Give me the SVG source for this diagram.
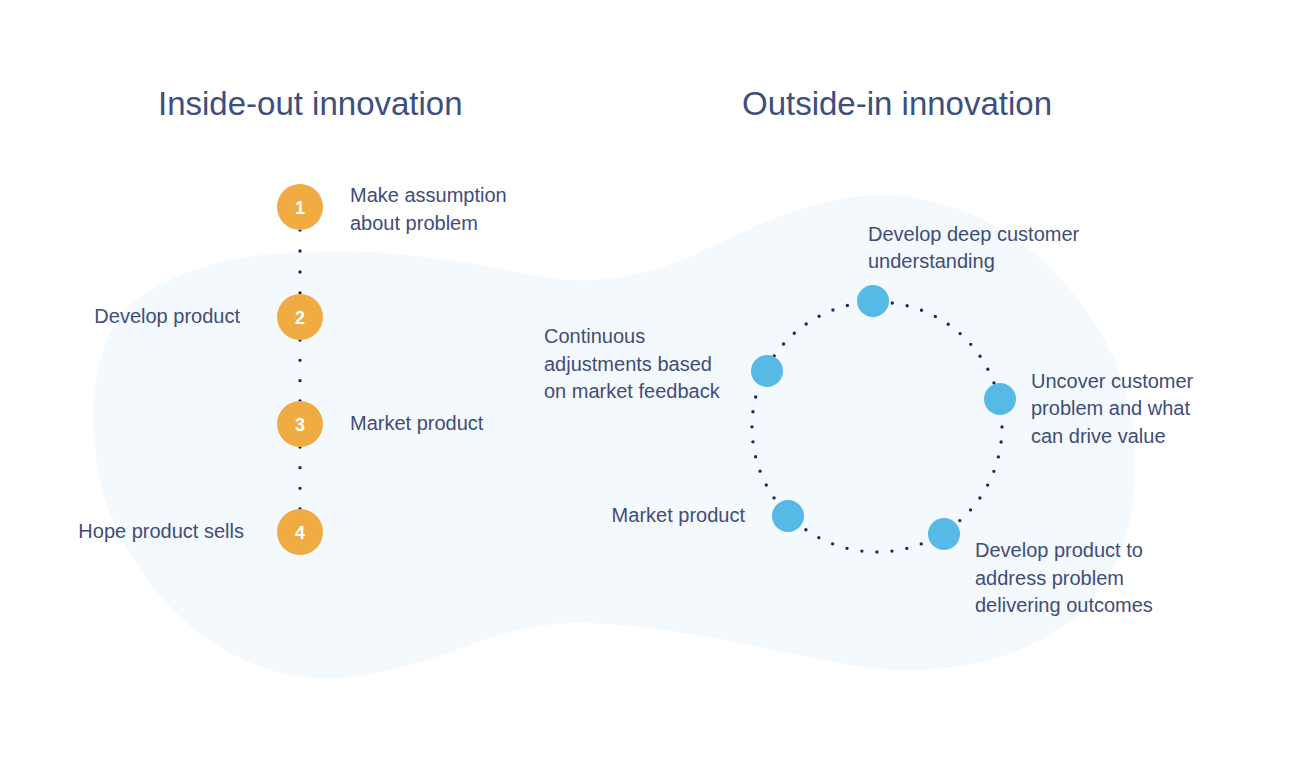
<svg xmlns="http://www.w3.org/2000/svg" width="1306" height="762" viewBox="0 0 1306 762">
<style>
.t{font-family:"Liberation Sans",Arial,sans-serif;font-size:20px;fill:#404D79}
.h{font-family:"Liberation Sans",Arial,sans-serif;font-size:33px;fill:#3D4E80}
.n{font-family:"Liberation Sans",Arial,sans-serif;font-size:18px;font-weight:bold;fill:#fff;text-anchor:middle}
.oc{fill:#F0AC42}
.bc{fill:#56B9E6}
.dot{fill:none;stroke:#1E2A5C;stroke-width:3.4;stroke-linecap:round}
</style>
<rect width="1306" height="762" fill="#fff"/>
<path id="blob" d="M300 252 C380 247 470 262 545 277 C640 292 700 250 770 220 C820 200 860 193 890 195 C990 200 1070 270 1110 350 C1140 410 1145 500 1115 565 C1080 640 990 672 900 670 C820 668 700 625 580 623 C490 622 440 670 340 678 C230 685 140 600 105 500 C85 430 90 340 130 305 C180 265 240 255 300 252 Z" fill="#F4F9FD"/>
<text class="h" x="158" y="115">Inside-out innovation</text>
<text class="h" x="742" y="115">Outside-in innovation</text>
<g id="connectors">
<line class="dot" x1="300" y1="230" x2="300" y2="293.1" stroke-dasharray="0 21"/>
<line class="dot" x1="300" y1="340" x2="300" y2="401.1" stroke-dasharray="0 20.33"/>
<line class="dot" x1="300" y1="447" x2="300" y2="509.1" stroke-dasharray="0 20.67"/>
<circle class="dot" cx="877" cy="427" r="125" stroke-dasharray="0 15.104"/>
</g>
<g id="step1"><circle class="oc" cx="300" cy="207" r="23"/><text class="n" x="300" y="213.5">1</text>
<text class="t" x="350" y="202">Make assumption</text><text class="t" x="350" y="230">about problem</text></g>
<g id="step2"><circle class="oc" cx="300" cy="317" r="23"/><text class="n" x="300" y="323.5">2</text>
<text class="t" x="240" y="323" text-anchor="end">Develop product</text></g>
<g id="step3"><circle class="oc" cx="300" cy="424" r="23"/><text class="n" x="300" y="430.5">3</text>
<text class="t" x="350" y="430">Market product</text></g>
<g id="step4"><circle class="oc" cx="300" cy="532" r="23"/><text class="n" x="300" y="538.5">4</text>
<text class="t" x="244" y="538" text-anchor="end">Hope product sells</text></g>
<g id="o-understand"><circle class="bc" cx="873" cy="301" r="16"/>
<text class="t" x="868" y="241">Develop deep customer</text><text class="t" x="868" y="268">understanding</text></g>
<g id="o-uncover"><circle class="bc" cx="1000" cy="399" r="16"/>
<text class="t" x="1031" y="388">Uncover customer</text><text class="t" x="1031" y="415">problem and what</text><text class="t" x="1031" y="443">can drive value</text></g>
<g id="o-develop"><circle class="bc" cx="944" cy="534" r="16"/>
<text class="t" x="975" y="557">Develop product to</text><text class="t" x="975" y="585">address problem</text><text class="t" x="975" y="612">delivering outcomes</text></g>
<g id="o-market"><circle class="bc" cx="788" cy="516" r="16"/>
<text class="t" x="745" y="522" text-anchor="end">Market product</text></g>
<g id="o-adjust"><circle class="bc" cx="767" cy="371" r="16"/>
<text class="t" x="544" y="343">Continuous</text><text class="t" x="544" y="371">adjustments based</text><text class="t" x="544" y="398">on market feedback</text></g>
</svg>
